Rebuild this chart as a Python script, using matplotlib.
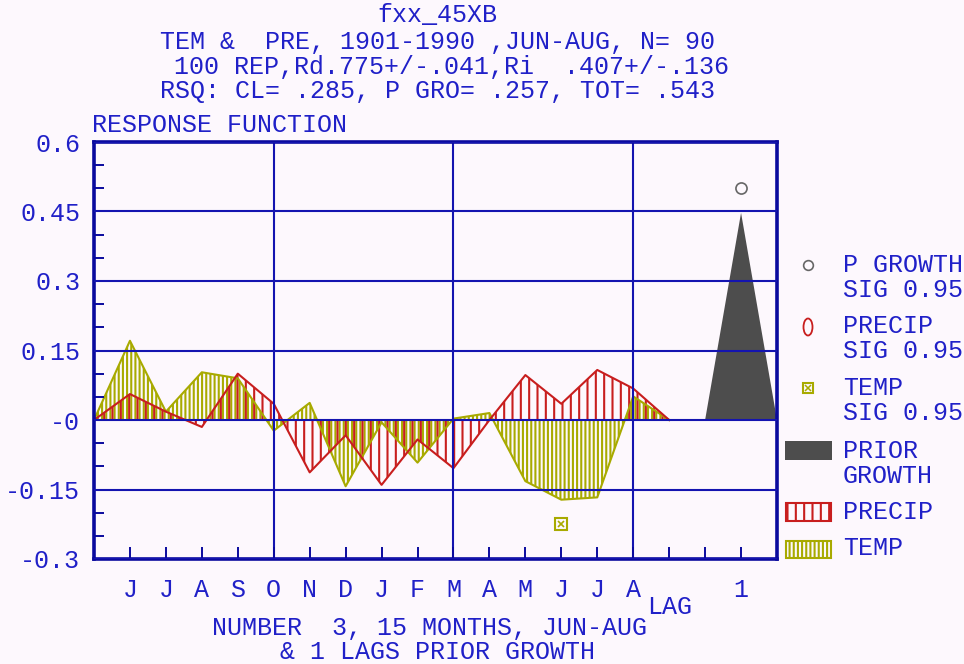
import numpy as np
import matplotlib
matplotlib.use('Agg')
import matplotlib.pyplot as plt
from matplotlib.patches import Rectangle, Ellipse
from matplotlib.ticker import MultipleLocator

# ---------------- data ----------------
months = ['J', 'J', 'A', 'S', 'O', 'N', 'D', 'J', 'F', 'M', 'A', 'M', 'J', 'J', 'A']
precip = [0.056, 0.018, -0.015, 0.100, 0.035, -0.113, -0.033, -0.140,
          -0.042, -0.104, 0.000, 0.097, 0.035, 0.108, 0.068]
temp = [0.171, 0.018, 0.103, 0.090, -0.023, 0.037, -0.143, -0.005,
        -0.092, 0.003, 0.015, -0.132, -0.172, -0.167, 0.051]
lag_labels = ['1']
prior_growth = [0.447]
p_growth_sig = [0.50]          # significant prior growth value (lag 1)
temp_sig_month = [13]          # month number (1-based) with significant temp
temp_sig_value = [-0.224]
ytick_vals = [-0.3, -0.15, 0.0, 0.15, 0.3, 0.45, 0.6]
ytick_labels = ['-0.3', '-0.15', '-0', '0.15', '0.3', '0.45', '0.6']

title_lines = ['fxx_45XB',
               'TEM &  PRE, 1901-1990 ,JUN-AUG, N= 90',
               '100 REP,Rd.775+/-.041,Ri  .407+/-.136',
               'RSQ: CL= .285, P GRO= .257, TOT= .543']
title_x = [437, 437, 452, 437]
title_y = [15, 42, 67, 91]

# ---------------- style ----------------
BG = '#FDF8FD'
BLUE_TXT = '#2020C8'
BLUE_AX = '#0A0A9E'
BLUE_GRID = '#1414B0'
RED = '#C81E1E'
YEL = '#A8AA00'
GRAY = '#4D4D4D'
FONT = 'Liberation Mono'
FS = 18

plt.rcParams['font.family'] = [FONT, 'DejaVu Sans Mono']
plt.rcParams['hatch.linewidth'] = 1.5

fig = plt.figure(figsize=(9.64, 6.64), dpi=100, facecolor=BG)
ax = fig.add_axes([94 / 964, 1 - 559 / 664, (777 - 94) / 964, (559 - 142) / 664])
ax.set_facecolor(BG)

n = len(months)
mx = np.arange(1, n + 1)
xs = np.concatenate([[0], mx, [n + 1]])
p_y = np.concatenate([[0], precip, [0]])
t_y = np.concatenate([[0], temp, [0]])
lag_x = np.arange(n + 3, n + 3 + len(lag_labels))

# temperature (hatched yellow)
ax.fill_between(xs, 0, t_y, facecolor='none', edgecolor=YEL, hatch='||||',
                linewidth=0, zorder=1)
ax.plot(xs, t_y, color=YEL, lw=1.5, zorder=2)
# precipitation (hatched red)
ax.fill_between(xs, 0, p_y, facecolor='none', edgecolor=RED, hatch='||',
                linewidth=0, zorder=1.2)
ax.plot(xs, p_y, color=RED, lw=1.5, zorder=2.1)

# prior growth triangle
for lx, pg in zip(lag_x, prior_growth):
    ax.fill([lx - 1, lx, lx + 1], [0, pg, 0], color=GRAY, lw=0, zorder=1)
# significance markers
ax.plot(lag_x, p_growth_sig, 'o', mfc='none', mec='#666666', ms=8, mew=1.2, zorder=3)
ax.plot(temp_sig_month, temp_sig_value, 's', mfc='none', mec=YEL, ms=8, mew=1.5, zorder=3)
ax.plot(temp_sig_month, temp_sig_value, 'x', color=YEL, ms=4.5, mew=1.2, zorder=3)

ax.set_xlim(0, n + 4)
ax.set_ylim(ytick_vals[0], ytick_vals[-1])

# grid
ax.set_axisbelow(False)
for gx in (5, 10, 15):
    ax.axvline(gx, color=BLUE_GRID, lw=1.5, zorder=2.5)
ax.yaxis.grid(True, color=BLUE_GRID, lw=1.5)
ax.xaxis.grid(False)

# ticks
xt = list(mx) + [n + 1, n + 2] + list(lag_x)
xl = months + ['', ''] + lag_labels
ax.set_xticks(xt)
ax.set_xticklabels(xl)
ax.tick_params(axis='x', direction='in', length=9, width=1.4, color=BLUE_AX,
               labelcolor=BLUE_TXT, labelsize=FS, pad=14)
ax.set_yticks(ytick_vals)
ax.set_yticklabels(ytick_labels)
ax.yaxis.set_minor_locator(MultipleLocator(0.05))
ax.tick_params(axis='y', which='major', length=0, labelcolor=BLUE_TXT,
               labelsize=FS, pad=10)
ax.tick_params(axis='y', which='minor', direction='in', length=7, width=1.4,
               color=BLUE_AX)
for s in ax.spines.values():
    s.set_color(BLUE_AX)
    s.set_linewidth(2.6)

# titles
for t, xx, yy in zip(title_lines, title_x, title_y):
    fig.text(xx / 964, 1 - yy / 664, t, ha='center', va='center',
             color=BLUE_TXT, fontsize=FS)
fig.text(92 / 964, 1 - 125 / 664, 'RESPONSE FUNCTION', ha='left', va='center',
         color=BLUE_TXT, fontsize=FS)
fig.text(670 / 964, 1 - 607 / 664, 'LAG', ha='center', va='center',
         color=BLUE_TXT, fontsize=FS)
fig.text(430 / 964, 1 - 628 / 664, 'NUMBER  3, 15 MONTHS, JUN-AUG', ha='center',
         va='center', color=BLUE_TXT, fontsize=FS)
fig.text(437 / 964, 1 - 652 / 664, '& 1 LAGS PRIOR GROWTH', ha='center',
         va='center', color=BLUE_TXT, fontsize=FS)

# legend (overlay in pixel coordinates)
lg = fig.add_axes([0, 0, 1, 1], facecolor='none')
lg.set_xlim(0, 964)
lg.set_ylim(664, 0)
lg.axis('off')
lg.plot([808], [265], 'o', mfc='none', mec='#666666', ms=7, mew=1.2)
lg.add_patch(Ellipse((808, 327), 9, 17, fill=False, ec=RED, lw=1.3))
lg.plot([808], [388], 's', mfc='none', mec=YEL, ms=7, mew=1.5)
lg.plot([808], [388], 'x', color=YEL, ms=4, mew=1.1)
lg.add_patch(Rectangle((785, 441), 47, 19, fc=GRAY, ec='none'))
lg.add_patch(Rectangle((786, 503), 45, 18, fc='none', ec=RED, hatch='||', lw=1.5))
lg.add_patch(Rectangle((786, 541), 45, 17, fc='none', ec=YEL, hatch='||||', lw=1.5))
leg_text = [('P GROWTH', 265), ('SIG 0.95', 290), ('PRECIP', 326), ('SIG 0.95', 351),
            ('TEMP', 388), ('SIG 0.95', 413), ('PRIOR', 451), ('GROWTH', 476),
            ('PRECIP', 512), ('TEMP', 548)]
for t, yy in leg_text:
    lg.text(843, yy, t, ha='left', va='center', color=BLUE_TXT, fontsize=FS)

fig.savefig('out.png', dpi=100, facecolor=BG)
